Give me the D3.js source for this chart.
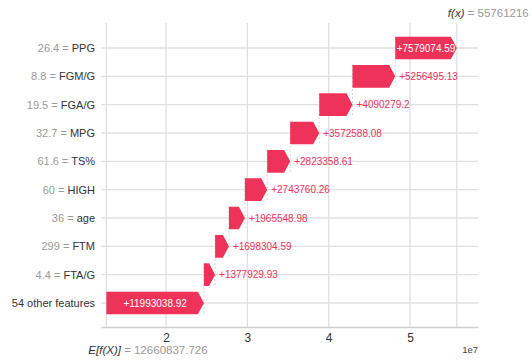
<!DOCTYPE html>
<html>
<head>
<meta charset="utf-8">
<script src="https://cdn.jsdelivr.net/npm/d3@7"></script>
<style>
  html, body { margin: 0; padding: 0; background: #fff; }
  svg { display: block; font-family: "Liberation Sans", Arial, sans-serif; }
</style>
</head>
<body>
<svg id="chart" width="532" height="360"></svg>
<script>
// top to bottom
const features = ['PPG', 'FGM/G', 'FGA/G', 'MPG', 'TS%', 'HIGH', 'age', 'FTM', 'FTA/G', '54 other features'];
const featureValues = ['26.4', '8.8', '19.5', '32.7', '61.6', '60', '36', '299', '4.4', null];
const shapValues = [7579074.59, 5256495.13, 4090279.2, 3572588.08, 2823358.61, 2743760.26, 1965548.98, 1698304.59, 1377929.93, 11993038.92];
const shapLabels = ['+7579074.59', '+5256495.13', '+4090279.2', '+3572588.08', '+2823358.61', '+2743760.26', '+1965548.98', '+1698304.59', '+1377929.93', '+11993038.92'];
const baseValue = 12660837.726;
const fx = 55761216;
const xTicks = [2e7, 3e7, 4e7, 5e7];

const red = '#ef3259';
const grid = '#e0e0e0';

const svg = d3.select('#chart');

const x = d3.scaleLinear().domain([1.2e7, 5.836e7]).range([101, 478]);
const y = d3.scalePoint().domain(features).range([48, 303]);
const barH = y.step() * 0.8;
const plotTop = 23, plotBottom = 327;

// cumulative starts, built from the bottom row up
const starts = new Array(features.length);
let acc = baseValue;
for (let i = features.length - 1; i >= 0; i--) {
  starts[i] = acc;
  acc += shapValues[i];
}

// vertical grid
svg.append('g').selectAll('line')
  .data(xTicks.concat([baseValue, fx]))
  .join('line')
  .attr('x1', d => x(d)).attr('x2', d => x(d))
  .attr('y1', plotTop).attr('y2', plotBottom)
  .attr('stroke', grid).attr('stroke-width', 1.3);

// horizontal row lines
svg.append('g').selectAll('line')
  .data(features)
  .join('line')
  .attr('x1', x.range()[0]).attr('x2', x.range()[1])
  .attr('y1', d => y(d)).attr('y2', d => y(d))
  .attr('stroke', grid).attr('stroke-width', 1.3);

// x axis
const xAxis = svg.append('g')
  .attr('transform', `translate(0,${plotBottom})`)
  .call(d3.axisBottom(x).tickValues(xTicks).tickSize(0).tickPadding(6).tickFormat(d => d / 1e7));
xAxis.select('.domain').attr('stroke', '#cfcfcf').attr('stroke-width', 1.3);
xAxis.selectAll('text').attr('fill', '#333').attr('font-size', 12)
  .attr('font-family', '"Liberation Sans", Arial, sans-serif');

svg.append('text')
  .attr('x', x.range()[1]).attr('y', 353)
  .attr('text-anchor', 'end').attr('font-size', 9.5).attr('fill', '#444')
  .text('1e7');

// connector dashes
svg.append('g').selectAll('line')
  .data(features.slice(0, -1))
  .join('line')
  .attr('x1', (d, i) => x(starts[i])).attr('x2', (d, i) => x(starts[i]))
  .attr('y1', d => y(d) - barH / 2)
  .attr('y2', (d, i) => y(features[i + 1]) + barH / 2)
  .attr('stroke', '#bbbbbb').attr('stroke-width', 0.6).attr('stroke-dasharray', '2,2');

// arrows
const headLen = 6;
function arrowPath(i) {
  const x0 = x(starts[i]), x1 = x(starts[i] + shapValues[i]);
  const yc = y(features[i]);
  const hl = Math.min(headLen, x1 - x0);
  const xb = x1 - hl;
  return `M${x0},${yc - barH / 2}L${xb},${yc - barH / 2}L${x1},${yc}L${xb},${yc + barH / 2}L${x0},${yc + barH / 2}Z`;
}
svg.append('g').selectAll('path')
  .data(features)
  .join('path')
  .attr('d', (d, i) => arrowPath(i))
  .attr('fill', red);

// value labels
svg.append('g').selectAll('text')
  .data(features)
  .join('text')
  .attr('font-size', 10)
  .attr('dy', '0.35em')
  .attr('y', d => y(d))
  .text((d, i) => shapLabels[i])
  .each(function (d, i) {
    const x0 = x(starts[i]), x1 = x(starts[i] + shapValues[i]);
    const w = this.getComputedTextLength();
    const t = d3.select(this);
    if (w < x1 - x0) {
      t.attr('x', (x0 + x1) / 2).attr('text-anchor', 'middle').attr('fill', '#fff');
    } else {
      t.attr('x', x1 + 4).attr('text-anchor', 'start').attr('fill', red);
    }
  });

// feature labels
const lab = svg.append('g').selectAll('text')
  .data(features)
  .join('text')
  .attr('x', 95)
  .attr('y', d => y(d))
  .attr('dy', '0.35em')
  .attr('text-anchor', 'end')
  .attr('font-size', 11);
lab.each(function (d, i) {
  const t = d3.select(this);
  if (featureValues[i] !== null) {
    t.append('tspan').attr('fill', '#999').text(featureValues[i] + ' = ');
  }
  t.append('tspan').attr('fill', '#333').text(d);
});

// f(x) and E[f(X)]
const fxText = svg.append('text').attr('x', x(fx) - 9).attr('y', 17).attr('font-size', 11.5);
fxText.append('tspan').attr('fill', '#333').attr('font-style', 'italic').text('f(x)');
fxText.append('tspan').attr('fill', '#999').text(' = ' + fx);

const eText = svg.append('text').attr('x', x(baseValue) - 18).attr('y', 354).attr('font-size', 11.5);
eText.append('tspan').attr('fill', '#333').attr('font-style', 'italic').text('E[f(X)]');
eText.append('tspan').attr('fill', '#999').text(' = ' + baseValue);
</script>
</body>
</html>
